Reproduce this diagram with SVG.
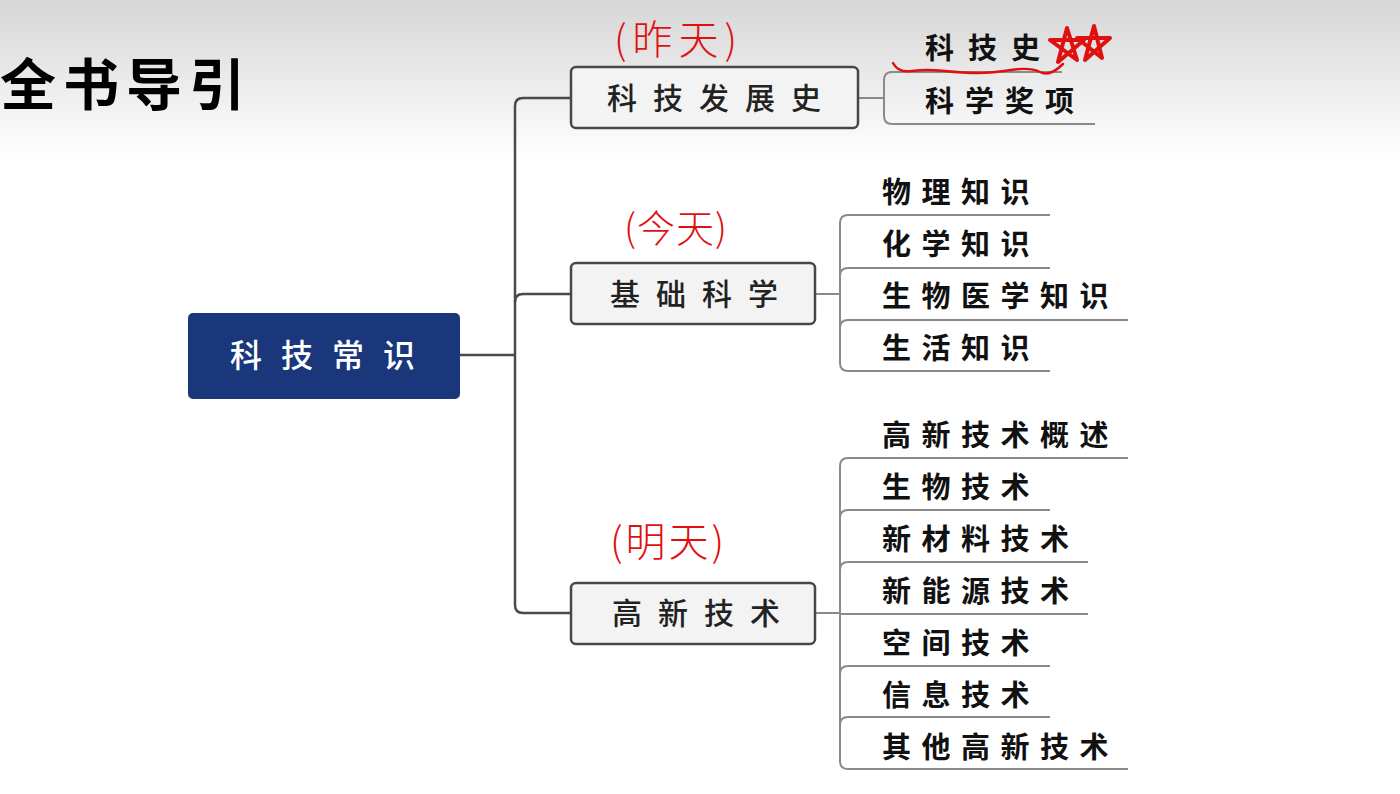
<svg xmlns="http://www.w3.org/2000/svg" width="1400" height="794" viewBox="0 0 1400 794">
<defs>
<linearGradient id="bg" x1="0" y1="0" x2="0" y2="1">
<stop offset="0" stop-color="#d6d6d6"/>
<stop offset="0.2" stop-color="#ffffff"/>
<stop offset="1" stop-color="#ffffff"/>
</linearGradient>
<style>
.cjk{font-family:"Noto Sans CJK SC","Noto Sans CJK JP",sans-serif;}
.title{font-size:56px;font-weight:700;fill:#000;letter-spacing:7px;}
.root{font-size:32px;fill:#fff;letter-spacing:19px;font-weight:500;}
.mid{font-size:30px;fill:#222;letter-spacing:16px;font-weight:500;}
.leaf{font-size:29px;fill:#111;letter-spacing:10.5px;font-weight:700;}
.hand{fill:#e01010;font-weight:300;}
.box{fill:#f3f3f3;stroke:#474747;stroke-width:2.5;}
.trunk{fill:none;stroke:#4a4a4a;stroke-width:2.5;}
.leafline{fill:none;stroke:#8a8a8a;stroke-width:2;}
.red{fill:none;stroke:#e01010;stroke-width:2.5;stroke-linecap:round;stroke-linejoin:round;}
.star{fill:none;stroke:#e01010;stroke-width:4;stroke-linejoin:round;stroke-linecap:round;}
</style>
</defs>
<rect x="0" y="0" width="1400" height="794" fill="url(#bg)"/>
<text class="cjk title" x="0" y="105">全书导引</text>

<g id="connectors">
<path class="trunk" d="M460,355 H515"/>
<path class="trunk" d="M571,98 H523 Q515,98 515,106 V605 Q515,613 523,613 H571"/>
<path class="trunk" d="M515,302 Q515,294 523,294 H571"/>
<path class="leafline" d="M858,98 H884"/>
<path class="leafline" d="M1062,72 H892 Q884,72 884,80 V116 Q884,124 892,124 H1095"/>
<path class="leafline" d="M815,294 H840"/>
<path class="leafline" d="M1050,215 H848 Q840,215 840,223 V363 Q840,371 848,371 H1050"/>
<path class="leafline" d="M840,276 Q840,268 848,268 H1050"/>
<path class="leafline" d="M840,328 Q840,320 848,320 H1128"/>
<path class="leafline" d="M815,613 H840"/>
<path class="leafline" d="M1128,458 H848 Q840,458 840,466 V761 Q840,769 848,769 H1128"/>
<path class="leafline" d="M840,518 Q840,510 848,510 H1050"/>
<path class="leafline" d="M840,570 Q840,562 848,562 H1088"/>
<path class="leafline" d="M840,614 H1088"/>
<path class="leafline" d="M840,674 Q840,666 848,666 H1050"/>
<path class="leafline" d="M840,725 Q840,717 848,717 H1050"/>
</g>

<g id="root">
<rect x="188" y="313" width="272" height="86" rx="5" fill="#19377a"/>
<text class="cjk root" x="230" y="367">科技常识</text>
</g>

<g id="n-history">
<rect class="box" x="571" y="67" width="287" height="61" rx="5"/>
<text class="cjk mid" x="607" y="109">科技发展史</text>
</g>
<g id="n-basic">
<rect class="box" x="571" y="263" width="244" height="61" rx="5"/>
<text class="cjk mid" x="610" y="305">基础科学</text>
</g>
<g id="n-hightech">
<rect class="box" x="571" y="583" width="244" height="61" rx="5"/>
<text class="cjk mid" x="612" y="624">高新技术</text>
</g>

<g id="leaves-history">
<text class="cjk leaf" x="925" y="59" style="letter-spacing:14px">科技史</text>
<text class="cjk leaf" x="925" y="112" style="letter-spacing:11px">科学奖项</text>
</g>
<g id="leaves-basic">
<text class="cjk leaf" x="882" y="203">物理知识</text>
<text class="cjk leaf" x="882" y="255">化学知识</text>
<text class="cjk leaf" x="882" y="307">生物医学知识</text>
<text class="cjk leaf" x="882" y="359">生活知识</text>
</g>
<g id="leaves-hightech">
<text class="cjk leaf" x="882" y="446">高新技术概述</text>
<text class="cjk leaf" x="882" y="498">生物技术</text>
<text class="cjk leaf" x="882" y="550">新材料技术</text>
<text class="cjk leaf" x="882" y="602">新能源技术</text>
<text class="cjk leaf" x="882" y="654">空间技术</text>
<text class="cjk leaf" x="882" y="706">信息技术</text>
<text class="cjk leaf" x="882" y="758">其他高新技术</text>
</g>

<g id="annotations">
<text class="cjk hand" x="614" y="54" style="font-size:40px;letter-spacing:6px">(昨天)</text>
<text class="cjk hand" x="624" y="242" style="font-size:38px;letter-spacing:1px">(今天)</text>
<text class="cjk hand" x="610" y="556" style="font-size:40px;letter-spacing:3px">(明天)</text>
<path class="red" d="M893,63 Q898,73 912,71 T945,71 T978,73 T1011,70 T1040,72 T1063,64"/>
<path class="star" d="M1058,62 L1067,28 L1077,60 L1050,40 L1084,40 Z"/>
<path class="star" d="M1085,60 L1094,26 L1102,58 L1077,38 L1110,38 Z"/>
</g>
</svg>
